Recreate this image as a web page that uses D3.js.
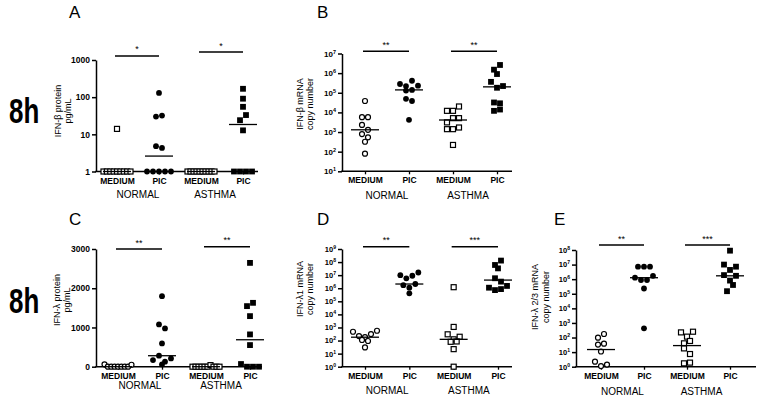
<!DOCTYPE html>
<html><head><meta charset="utf-8">
<script src="https://cdn.jsdelivr.net/npm/d3@7"></script>
<style>
body{margin:0;background:#fff}
svg{display:block}
text{font-family:"Liberation Sans",Arial,Helvetica,sans-serif;fill:#000}
</style>
</head><body>
<svg id="chart" width="757" height="398"></svg>
<script>
// ---------------- DATA ----------------
const categories = ["MEDIUM","PIC","MEDIUM","PIC"];
const groupNames = ["NORMAL","ASTHMA"];
const rowLabels = ["8h","8h"];
const panelLetters = ["A","B","C","D","E"];

// A: IFN-β protein (pg/mL), log
const aNormMed = [14,1,1,1,1,1,1,1,1,1];
const aNormPic = [130,30,32,4.8,4.3,1,1,1,1,1];
const aAsthMed = [1,1,1,1,1,1,1,1,1,1];
const aAsthPic = [168,91,55,24,33,12.8,1,1,1,1];
const aMedians = [1,2.6,1,18.4];
const aStars = ["*","*"];
const aStarLevels = [1290,1640];
const aTicks = [1,10,100,1000];
const aYTitle = ["IFN-\u03b2 protein","pg/mL"];

// B: IFN-β mRNA copy number, log
const bNormMed = [3.8e4,5.7e3,5.7e3,2.3e3,1.3e3,790,540,320,79];
const bNormPic = [2.8e5,2.2e5,4.1e5,2.3e5,1.3e5,1.4e5,4.9e4,3.8e4,4.2e3];
const bAsthMed = [1.2e4,1.2e4,2e4,3.1e3,5.1e3,5.1e3,1.4e3,1.4e3,1.7e3,220];
const bAsthPic = [1.5e6,2.6e6,9e5,3.6e5,1.8e5,2.2e5,3.2e4,2.9e4,1.2e4,1.4e4];
const bMedians = [1.3e3,1.4e5,4.1e3,2e5];
const bStars = ["**","**"];
const bStarLevels = [1.3e7,1.3e7];
const bTicks = [1e1,1e2,1e3,1e4,1e5,1e6,1e7];
const bYTitle = ["IFN-\u03b2 mRNA","copy number"];

// C: IFN-λ protein (pg/mL), linear
const cNormMed = [60,0,0,0,0,0,0,0,50];
const cNormPic = [1798,1077,975,594,170,280,127,212,59];
const cAsthMed = [0,0,0,0,0,0,40,0,0,0];
const cAsthPic = [2646,1544,1628,1289,823,551,68,0,0,0];
const cMedians = [0,280,0,687];
const cStars = ["**","**"];
const cStarLevels = [3000,3055];
const cTicks = [0,1000,2000,3000];
const cYTitle = ["IFN-\u03bb protein","pg/mL"];

// D: IFN-λ1 mRNA copy number, log
const dNormMed = [470,220,185,310,560,110,92,30];
const dNormPic = [1e7,5.7e6,9e6,1.6e7,1.7e6,1.1e6,2.1e6,4.1e5];
const dAsthMed = [1.2e6,1100,300,124,195,80,85,22,1];
const dAsthPic = [6e7,1.3e8,3.3e7,5.8e6,3.2e6,1.1e6,7.2e5,8.6e5,1.5e6];
const dMedians = [180,2.1e6,124,4.2e6];
const dStars = ["**","***"];
const dStarLevels = [1.5e9,1.5e9];
const dTicks = [1e0,1e1,1e2,1e3,1e4,1e5,1e6,1e7,1e8,1e9];
const dYTitle = ["IFN-\u03bb1 mRNA","copy number"];

// E: IFN-λ 2/3 mRNA copy number, log
const eNormMed = [98,175,33,38,11,2.2,1.1,1.4];
const eNormPic = [7.2e6,7.2e6,7.2e6,1.26e6,8.8e5,8.8e5,1.7e6,2.3e5,430];
const eAsthMed = [225,115,250,40,58,18,7.4,1.7,1.9];
const eAsthPic = [9e7,1e7,4.3e6,7.2e6,1.9e6,8e5,1.7e6,1.5e5,4e5];
const eMedians = [15,1.26e6,28,1.7e6];
const eStars = ["**","***"];
const eStarLevels = [2.2e8,2.2e8];
const eTicks = [1e0,1e1,1e2,1e3,1e4,1e5,1e6,1e7,1e8];
const eYTitle = ["IFN-\u03bb 2/3 mRNA","copy number"];

// ---------------- LAYOUT ----------------
const shapesA = ["square-open","circle","square-open","square"];
const shapesStd = ["circle-open","circle","square-open","square"];
const panels = [
  {letter:panelLetters[0], series:[aNormMed,aNormPic,aAsthMed,aAsthPic], medians:aMedians, stars:aStars, starLevels:aStarLevels, ticks:aTicks, ytitle:aYTitle, shapes:shapesA,
   log:true, sup:false, domain:[1,1000], yr:[171.5,60], axisX:96, xr:[117,243], xEnd:258, title:[69,18], yl:[61,70.5], ylc:111, gb:197.5, tfs:8.5},
  {letter:panelLetters[1], series:[bNormMed,bNormPic,bAsthMed,bAsthPic], medians:bMedians, stars:bStars, starLevels:bStarLevels, ticks:bTicks, ytitle:bYTitle, shapes:shapesStd,
   log:true, sup:true, domain:[10,1e7], yr:[171.3,53.5], axisX:342, xr:[365,497], xEnd:512, title:[317,18], yl:[303,313], ylc:104, gb:199, tfs:8},
  {letter:panelLetters[2], series:[cNormMed,cNormPic,cAsthMed,cAsthPic], medians:cMedians, stars:cStars, starLevels:cStarLevels, ticks:cTicks, ytitle:cYTitle, shapes:shapesStd,
   log:false, sup:false, domain:[0,3000], yr:[366.7,249], axisX:96, xr:[118,250], xEnd:262, title:[69,225], yl:[60,70], ylc:300, gb:389, tfs:8.5},
  {letter:panelLetters[3], series:[dNormMed,dNormPic,dAsthMed,dAsthPic], medians:dMedians, stars:dStars, starLevels:dStarLevels, ticks:dTicks, ytitle:dYTitle, shapes:shapesStd,
   log:true, sup:true, domain:[1,1e9], yr:[366.7,249], axisX:342, xr:[365,498], xEnd:512, title:[317,225], yl:[303,312.5], ylc:289, gb:394, tfs:7.5},
  {letter:panelLetters[4], series:[eNormMed,eNormPic,eAsthMed,eAsthPic], medians:eMedians, stars:eStars, starLevels:eStarLevels, ticks:eTicks, ytitle:eYTitle, shapes:shapesStd,
   log:true, sup:true, domain:[1,1e8], yr:[366.7,250], axisX:576, xr:[601,730], xEnd:756, title:[554,225], yl:[538,549], ylc:297, gb:395, tfs:7.5}
];

const svg = d3.select("#chart");

// row labels "8h"
[[9,123],[9,313]].forEach((p,i)=>{
  svg.append("g").attr("transform",`translate(${p[0]},${p[1]}) scale(0.72,1)`)
    .append("text").attr("font-size",36).attr("font-weight","bold").text(rowLabels[i]);
});

function swarm(values, y, cx, d=6, maxW=27, thr=7){
  const pts = values.map((v,i)=>({v,i,py:y(v)}));
  const sorted = pts.slice().sort((a,b)=>a.py-b.py || a.i-b.i);
  const rows=[]; let cur=null;
  for(const p of sorted){
    if(!cur || p.py-cur.start>thr){cur={start:p.py,pts:[]};rows.push(cur);}
    cur.pts.push(p);
  }
  rows.forEach(r=>{
    r.pts.sort((a,b)=>a.i-b.i);
    const n=r.pts.length;
    const sp = n>1 ? Math.min(d, maxW/(n-1)) : 0;
    r.pts.forEach((p,k)=>{p.px = cx + (k-(n-1)/2)*sp;});
  });
  return pts;
}

panels.forEach(P=>{
  const g = svg.append("g");
  const y = (P.log ? d3.scaleLog() : d3.scaleLinear()).domain(P.domain).range(P.yr);
  const x = d3.scalePoint().domain([0,1,2,3]).range(P.xr);
  const yBot = P.yr[0];

  // title letter
  g.append("text").attr("x",P.title[0]).attr("y",P.title[1]).attr("font-size",17).text(P.letter);

  // y axis
  const ya = g.append("g").attr("transform",`translate(${P.axisX},0)`)
    .call(d3.axisLeft(y).tickValues(P.ticks).tickSize(4).tickSizeOuter(0).tickPadding(2)
      .tickFormat(d=>P.log? String(d) : d3.format("d")(d)));
  ya.selectAll("path,line").attr("stroke","#000").attr("stroke-width",1.5);
  ya.selectAll("text").attr("font-size",P.tfs).attr("font-weight","bold").attr("font-family","Liberation Sans, Arial, sans-serif").attr("fill","#000");
  if(P.sup){
    ya.selectAll(".tick text").each(function(d){
      const t=d3.select(this); t.text("");
      t.append("tspan").text("10");
      t.append("tspan").attr("dy",-3).attr("font-size",P.tfs*0.68).text(Math.round(Math.log10(d)));
    });
  }

  // x axis baseline + category ticks
  g.append("line").attr("x1",P.axisX-0.75).attr("x2",P.xEnd).attr("y1",yBot).attr("y2",yBot)
    .attr("stroke","#000").attr("stroke-width",1.6);
  const xa = g.append("g").attr("transform",`translate(0,${yBot})`)
    .call(d3.axisBottom(x).tickSize(3).tickSizeOuter(0).tickPadding(3).tickFormat(i=>categories[i]));
  xa.select(".domain").remove();
  xa.selectAll("line").attr("stroke","#000").attr("stroke-width",1.3);
  xa.selectAll("text").attr("font-size",8.5).attr("font-weight","bold").attr("font-family","Liberation Sans, Arial, sans-serif").attr("fill","#000");

  // group labels
  groupNames.forEach((gn,k)=>{
    const mid = (x(2*k)+x(2*k+1))/2 - (k===1?7:0);
    g.append("text").attr("x",mid).attr("y",P.gb).attr("text-anchor","middle").attr("font-size",10).text(gn);
  });

  // y title
  P.ytitle.forEach((t,k)=>{
    g.append("text").attr("transform",`translate(${P.yl[k]},${P.ylc}) rotate(-90)`)
      .attr("text-anchor","middle").attr("font-size",9).text(t);
  });

  // significance bars
  P.stars.forEach((s,k)=>{
    const yy = y(P.starLevels[k]);
    const x0 = x(2*k)-2, x1 = x(2*k+1);
    g.append("line").attr("x1",x0).attr("x2",x1).attr("y1",yy).attr("y2",yy).attr("stroke","#000").attr("stroke-width",1.5);
    g.append("text").attr("x",(x0+x1)/2).attr("y",yy-3.5).attr("text-anchor","middle").attr("font-size",9).text(s);
  });

  // points
  P.series.forEach((vals,ci)=>{
    const pts = swarm(vals, y, x(ci));
    const shape = P.shapes[ci];
    const open = shape.endsWith("open");
    if(shape.startsWith("circle")){
      g.selectAll(null).data(pts).enter().append("circle")
        .attr("cx",d=>d.px).attr("cy",d=>d.py).attr("r",open?2.5:2.9)
        .attr("fill",open?"#fff":"#000").attr("stroke","#000").attr("stroke-width",open?1.2:0);
    } else {
      const s = open?5:5.8;
      g.selectAll(null).data(pts).enter().append("rect")
        .attr("x",d=>d.px-s/2).attr("y",d=>d.py-s/2).attr("width",s).attr("height",s)
        .attr("fill",open?"#fff":"#000").attr("stroke","#000").attr("stroke-width",open?1.2:0);
    }
    // median line
    const my = y(P.medians[ci]);
    g.append("line").attr("x1",x(ci)-14).attr("x2",x(ci)+14).attr("y1",my).attr("y2",my)
      .attr("stroke","#000").attr("stroke-width",1.3);
  });
});
</script>
</body></html>
